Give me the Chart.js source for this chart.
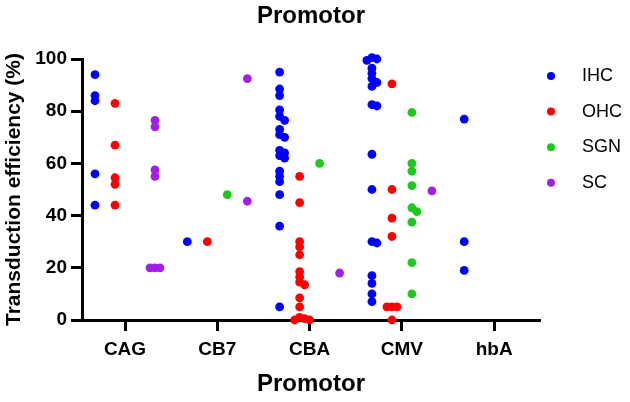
<!DOCTYPE html>
<html>
<head>
<meta charset="utf-8">
<script src="https://cdn.jsdelivr.net/npm/chart.js@4"></script>
<style>
  body { margin: 0; background: #fff; }
  #wrap { width: 630px; height: 402px; }
</style>
</head>
<body>
<div id="wrap"><canvas id="myChart"></canvas></div>
<script>
const categories = ['CAG', 'CB7', 'CBA', 'CMV', 'hbA']
const seriesNames = ['IHC', 'OHC', 'SGN', 'SC']
const seriesColors = ['#0000ff', '#ff0000', '#1ec81e', '#a21fe6']
const yTicks = [0, 20, 40, 60, 80, 100]

// values per promotor, in the order of categories
const ihc = [
	[94, 86, 84, 56, 44],
	[30],
	[95, 88.5, 86, 80.5, 78, 76.5, 73, 71, 70, 65, 64, 63, 62, 57, 55, 53, 48, 36, 5],
	[100.5, 100, 99.5, 96.5, 94.5, 92.5, 91, 89.5, 82.5, 82, 63.5, 50, 30, 29.5, 17, 14, 10, 7],
	[77, 30, 19],
]
const ohc = [
	[83, 67, 54.5, 52, 44],
	[30],
	[55, 45, 30, 28, 25, 18.5, 16.5, 14.5, 13.5, 8.5, 5, 1, 0.5, 0, 0],
	[90.5, 50, 39, 32, 5, 5, 5, 0],
	[],
]
const sgn = [
	[],
	[48],
	[60],
	[79.5, 60, 57, 51.5, 43, 41.5, 37.5, 22, 10],
	[],
]
const sc = [
	[76.5, 74, 57.5, 55, 20, 20, 20],
	[92.5, 45.5],
	[18],
	[49.5],
	[],
]
const seriesValues = [ihc, ohc, sgn, sc]

// horizontal place of each series inside a promotor group
const groupOffsets = [-0.325, -0.108, 0.108, 0.325]

// simple swarm so touching dots get pushed sideways
const PX_X = 92.3, PX_Y = 2.61, MIN_D = 5, STEP = 2.5
function swarm(vals) {
	const placed = []
	return vals.map(v => {
		for (let k = 0; ; k++) {
			const dx = k === 0 ? 0 : Math.ceil(k / 2) * (k % 2 ? 1 : -1) * STEP
			if (placed.every(p => Math.hypot(p.dx - dx, (p.v - v) * PX_Y) >= MIN_D)) {
				placed.push({ dx, v })
				return dx / PX_X
			}
		}
	})
}

const datasets = seriesNames.map((name, si) => {
	const pts = []
	seriesValues[si].forEach((vals, ci) => {
		const jit = swarm(vals)
		vals.forEach((v, i) => pts.push({ x: ci + groupOffsets[si] + jit[i], y: v }))
	})
	return {
		label: name,
		data: pts,
		backgroundColor: seriesColors[si],
		borderWidth: 0,
		pointRadius: 4.4,
		clip: false,
	}
})

const legendPlugin = {
	id: 'sideLegend',
	afterDraw(chart) {
		const ctx = chart.ctx
		const x = chart.chartArea.right + 11
		ctx.save()
		ctx.font = '18px "Liberation Sans", Arial, sans-serif'
		ctx.textBaseline = 'middle'
		seriesNames.forEach((name, i) => {
			const y = 76 + i * 35.6
			ctx.fillStyle = seriesColors[i]
			ctx.beginPath()
			ctx.arc(x, y, 4, 0, Math.PI * 2)
			ctx.fill()
			ctx.fillStyle = '#000'
			ctx.fillText(name, x + 31, y)
		})
		ctx.restore()
	},
}

Chart.defaults.font.family = '"Liberation Sans", Arial, sans-serif'
Chart.defaults.color = '#000'

const ctx = document.getElementById('myChart')

new Chart(ctx, {
	type: 'scatter',
	data: { datasets },
	options: {
		responsive: true,
		maintainAspectRatio: false,
		animation: false,
		layout: { padding: { left: 0, right: 90, top: 0, bottom: 0 } },
		plugins: {
			legend: { display: false },
			tooltip: { enabled: false },
			title: {
				display: true,
				fullSize: false,
				text: 'Promotor',
				color: '#000',
				font: { size: 24, weight: 'bold' },
				padding: { top: 2, bottom: 28.2 },
			},
		},
		scales: {
			x: {
				type: 'linear',
				min: -0.466,
				max: 4.496,
				afterBuildTicks: s => { s.ticks = categories.map((c, i) => ({ value: i })) },
				afterFit: s => { s.height = 82 },
				ticks: {
					callback: (v, i) => categories[i],
					font: { size: 19, weight: 'bold' },
					color: '#000',
					padding: 7,
					maxRotation: 0,
				},
				grid: {
					drawOnChartArea: false,
					drawTicks: true,
					tickLength: 11,
					tickWidth: 3,
					tickColor: '#000',
				},
				border: { display: true, width: 3, color: '#000' },
				title: {
					display: true,
					text: 'Promotor',
					color: '#000',
					font: { size: 24, weight: 'bold' },
					padding: { top: 0, bottom: 3 },
				},
			},
			y: {
				min: 0,
				max: 100,
				afterBuildTicks: s => { s.ticks = yTicks.map(v => ({ value: v })) },
				afterFit: s => { s.width = 82 },
				ticks: {
					font: { size: 19, weight: 'bold' },
					color: '#000',
					padding: 4,
				},
				grid: {
					drawOnChartArea: false,
					drawTicks: true,
					tickLength: 11,
					tickWidth: 3,
					tickColor: '#000',
				},
				border: { display: true, width: 3, color: '#000' },
				title: {
					display: true,
					text: 'Transduction efficiency (%)',
					color: '#000',
					font: { size: 21, weight: 'bold' },
					padding: { top: 2, bottom: 0 },
				},
			},
		},
	},
	plugins: [legendPlugin],
})
</script>
</body>
</html>
